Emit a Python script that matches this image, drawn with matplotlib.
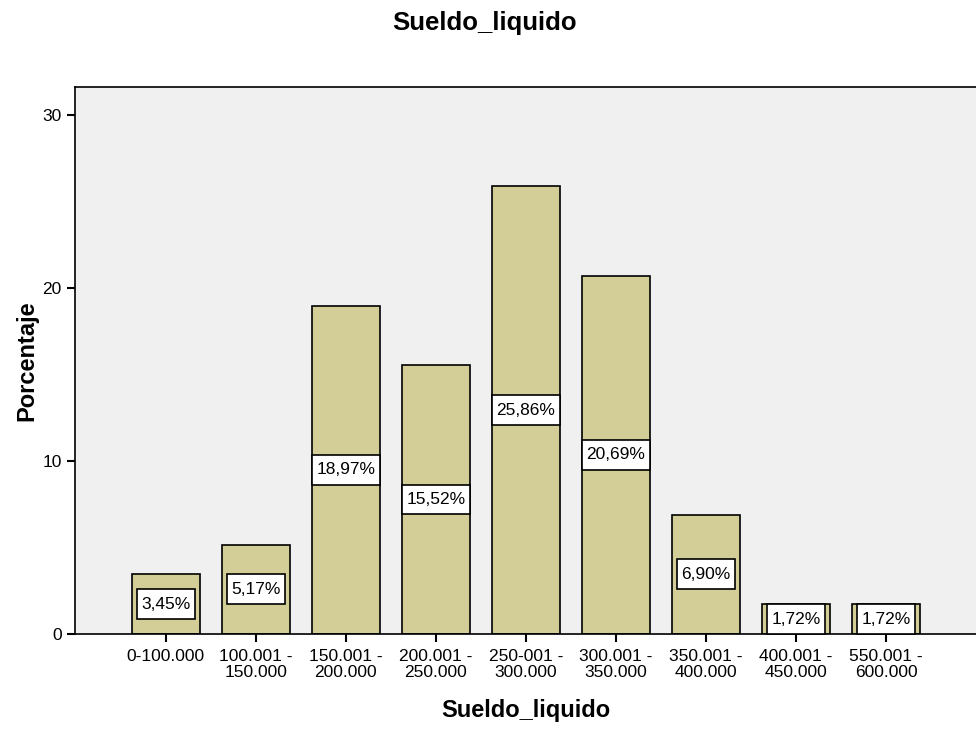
import matplotlib
matplotlib.use("Agg")
import matplotlib.pyplot as plt
from matplotlib.path import Path

plt.rcParams['font.family'] = ['Liberation Sans', 'DejaVu Sans']

categories = ["0-100.000", "100.001 -\n150.000", "150.001 -\n200.000", "200.001 -\n250.000",
              "250-001 -\n300.000", "300.001 -\n350.000", "350.001 -\n400.000",
              "400.001 -\n450.000", "550.001 -\n600.000"]
values = [3.45, 5.17, 18.97, 15.52, 25.86, 20.69, 6.90, 1.72, 1.72]
labels = ["3,45%", "5,17%", "18,97%", "15,52%", "25,86%", "20,69%", "6,90%", "1,72%", "1,72%"]
yticks = [0, 10, 20, 30]


def label_box(x0, y0, width, height, mutation_size):
    px = 0.26 * mutation_size
    py = 0.42 * mutation_size
    a, b = x0 - px, y0 - py
    c, d = x0 + width + px, y0 + height + py
    return Path([(a, b), (c, b), (c, d), (a, d), (a, b)], closed=True)


fig = plt.figure(figsize=(9.76, 7.29), dpi=100)
ax = fig.add_axes([75/976, 1-634/729, 1-75/976, (634-87)/729])
ax.set_facecolor('#f0f0f0')
x = list(range(len(values)))
ax.bar(x, values, width=0.755, color='#d3ce97', edgecolor='black', linewidth=1.2, zorder=2)
for xi, v, lab in zip(x, values, labels):
    ax.text(xi, v/2, lab, ha='center', va='center', fontsize=12.5, zorder=3,
            bbox=dict(boxstyle=label_box, facecolor='white', edgecolor='black', linewidth=1.2))
ax.set_xlim(-1.01, 9.0)
ax.set_ylim(0, 31.6)
ax.set_yticks(yticks)
ax.set_xticks(x)
ax.set_xticklabels(categories, fontsize=12.5, linespacing=1.05)
ax.tick_params(axis='y', labelsize=12.5, length=6, width=1.5, direction='out')
ax.tick_params(axis='x', length=6, width=1.5, direction='out', pad=5)
for s in ['left', 'top', 'bottom']:
    ax.spines[s].set_linewidth(1.2)
ax.spines['right'].set_visible(False)
ax.set_ylabel("Porcentaje", fontsize=17, fontweight='bold', labelpad=3)
ax.set_xlabel("Sueldo_liquido", fontsize=17, fontweight='bold', labelpad=14)
fig.text(485/976, 1-23/729, "Sueldo_liquido", ha='center', va='center', fontsize=18.5, fontweight='bold')
fig.savefig("out.png", dpi=100)
